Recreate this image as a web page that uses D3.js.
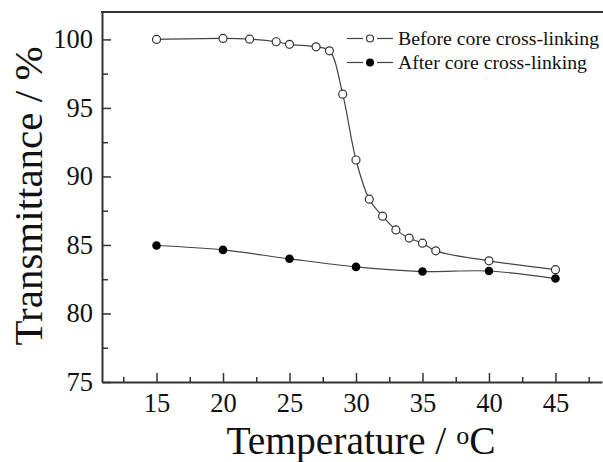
<!doctype html>
<html>
    <head>
        <script src="https://d3js.org/d3.v7.min.js"></script>
        <style>
            body { margin: 0; background: #fff; }
            text { font-family: "Liberation Serif", "Times New Roman", serif; fill: #111; }
            .axis path.domain { stroke: #333; stroke-width: 2; }
            .axis line { stroke: #333; stroke-width: 1.5; }
        </style>
    </head>
    <body>
        <svg id="chart" width="603" height="462"></svg>

        <script>
            // temperature (°C) and transmittance (%)
            var tempBefore = [15, 20, 22, 24, 25, 27, 28, 29, 30, 31, 32, 33, 34, 35, 36, 40, 45];
            var transBefore = [100.0, 100.07, 100.02, 99.83, 99.64, 99.46, 99.17, 96.0, 91.2, 88.34, 87.1, 86.1, 85.5, 85.13, 84.57, 83.84, 83.2];
            var tempAfter = [15, 20, 25, 30, 35, 40, 45];
            var transAfter = [84.96, 84.64, 83.99, 83.4, 83.06, 83.1, 82.55];

            var xTicks = [15, 20, 25, 30, 35, 40, 45];
            var xMinor = [12.5, 17.5, 22.5, 27.5, 32.5, 37.5, 42.5, 47.5];
            var yTicks = [75, 80, 85, 90, 95, 100];
            var yMinor = [77.5, 82.5, 87.5, 92.5, 97.5];

            var legendLabels = ["Before core cross-linking", "After core cross-linking"];

            var svg = d3.select('#chart');

            var xScale = d3.scaleLinear().domain([10.9, 48.5]).range([102, 602]);
            var yScale = d3.scaleLinear().domain([75, 102]).range([382, 12]);

            // minor ticks first
            svg.append('g').attr('class', 'axis')
                .attr('transform', 'translate(0,382)')
                .call(d3.axisBottom(xScale).tickValues(xMinor).tickSize(-5).tickFormat(''))
                .select('path.domain').remove();
            svg.append('g').attr('class', 'axis')
                .attr('transform', 'translate(102,0)')
                .call(d3.axisLeft(yScale).tickValues(yMinor).tickSize(-6).tickFormat(''))
                .select('path.domain').remove();

            var xAxis = d3.axisBottom(xScale)
                .tickValues(xTicks)
                .tickSizeInner(-9)
                .tickSizeOuter(0)
                .tickPadding(11);
            svg.append('g').attr('class', 'axis')
                .attr('transform', 'translate(0,382)')
                .call(xAxis);

            var yAxis = d3.axisLeft(yScale)
                .tickValues(yTicks)
                .tickSizeInner(-9)
                .tickSizeOuter(0)
                .tickPadding(9);
            svg.append('g').attr('class', 'axis')
                .attr('transform', 'translate(102,0)')
                .call(yAxis);

            svg.selectAll('.axis text')
                .style('font-family', '"Liberation Serif", serif')
                .style('font-size', '26.5px')
                .style('fill', '#111');

            // top frame line
            svg.append('line')
                .attr('x1', 101).attr('x2', 603)
                .attr('y1', 12).attr('y2', 12)
                .style('stroke', '#333').style('stroke-width', 2);

            // axis titles
            var xt = svg.append('text')
                .attr('x', 361).attr('y', 454)
                .attr('text-anchor', 'middle')
                .style('font-size', '39.5px');
            xt.append('tspan').text('Temperature / ');
            xt.append('tspan').attr('baseline-shift', '40%').style('font-size', '26px').text('o');
            xt.append('tspan').text('C');

            svg.append('text')
                .attr('transform', 'translate(42,196) rotate(-90)')
                .attr('text-anchor', 'middle')
                .style('font-size', '41px')
                .text('Transmittance / %');

            var line = d3.line()
                .x(d => xScale(d[0]))
                .y(d => yScale(d[1]))
                .curve(d3.curveCatmullRom.alpha(0.5));

            var before = tempBefore.map((t, i) => [t, transBefore[i]]);
            var after = tempAfter.map((t, i) => [t, transAfter[i]]);

            svg.append('path').datum(before)
                .attr('d', line)
                .style('fill', 'none').style('stroke', '#444').style('stroke-width', 1.2);
            svg.append('path').datum(after)
                .attr('d', line)
                .style('fill', 'none').style('stroke', '#444').style('stroke-width', 1.2);

            svg.selectAll('circle.before')
                .data(before)
                .enter()
                .append('circle')
                    .attr('class', 'before')
                    .attr('r', 4)
                    .attr('cx', d => xScale(d[0]))
                    .attr('cy', d => yScale(d[1]))
                    .style('fill', '#fff')
                    .style('stroke', '#333')
                    .style('stroke-width', 1.2);

            svg.selectAll('circle.after')
                .data(after)
                .enter()
                .append('circle')
                    .attr('class', 'after')
                    .attr('r', 4.3)
                    .attr('cx', d => xScale(d[0]))
                    .attr('cy', d => yScale(d[1]))
                    .style('fill', '#000');

            // legend
            var legend = svg.append('g').selectAll('g')
                .data(legendLabels)
                .enter()
                .append('g')
                .attr('transform', (d, i) => 'translate(0,' + (38.5 + i * 24) + ')');
            legend.append('line')
                .attr('x1', 347).attr('x2', 363)
                .style('stroke', '#444').style('stroke-width', 1.2);
            legend.append('line')
                .attr('x1', 377).attr('x2', 393)
                .style('stroke', '#444').style('stroke-width', 1.2);
            legend.append('circle')
                .attr('cx', 370).attr('r', (d, i) => i === 0 ? 3.5 : 4)
                .style('fill', (d, i) => i === 0 ? '#fff' : '#000')
                .style('stroke', (d, i) => i === 0 ? '#333' : 'none')
                .style('stroke-width', 1.2);
            legend.append('text')
                .attr('x', 398).attr('y', 6)
                .style('font-size', '19.8px')
                .text(d => d);
        </script>
    </body>
</html>
